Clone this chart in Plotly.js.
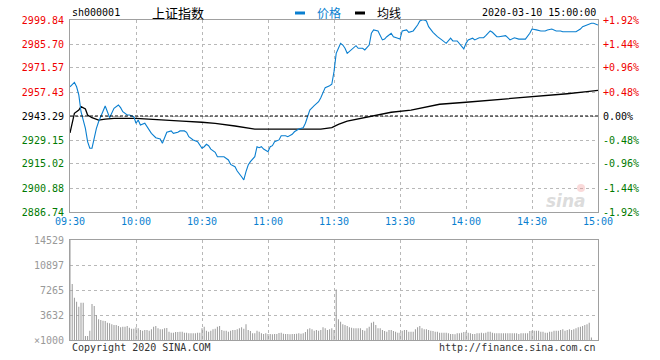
<!DOCTYPE html>
<html>
<head>
<meta charset="utf-8">
<script src="https://cdn.plot.ly/plotly-3.0.1.min.js"></script>
<style>html,body{margin:0;padding:0;background:#fff;}#chart{width:660px;height:360px;}</style>
</head>
<body>
<div id="chart"></div>
<script>
// ---- data (minutes since 09:30, 11:30 and 13:00 share minute 120) ----
const symbol = 'sh000001';
const indexName = '上证指数';
const stamp = '2020-03-10 15:00:00';
const prevClose = 2943.29;

const timeTicks = [0, 30, 60, 90, 120, 150, 180, 210, 240];
const timeLabels = ['09:30', '10:00', '10:30', '11:00', '11:30', '13:30', '14:00', '14:30', '15:00'];

const priceTicks = [2886.74, 2900.88, 2915.02, 2929.15, 2943.29, 2957.43, 2971.57, 2985.70, 2999.84];
const priceTickText = ['2886.74', '2900.88', '2915.02', '2929.15', '2943.29', '2957.43', '2971.57', '2985.70', '2999.84'];
const pctTickText = ['-1.92%', '-1.44%', '-0.96%', '-0.48%', '0.00%', '+0.48%', '+0.96%', '+1.44%', '+1.92%'];

const volTicks = [0, 3632, 7265, 10897, 14529];
const volTickText = ['×1000', '3632', '7265', '10897', '14529'];

const priceMin = [0,2,3,4,5,7,8,9,10,11,12,13,15,16,17,18,20,21,22,23,24,26,27,29,30,31,32,34,35,37,39,41,42,43,44,46,47,49,50,52,53,54,56,58,59,60,61,62,63,64,66,67,68,70,72,73,75,76,78,79,80,81,82,83,84,85,86,87,88,90,91,92,93,95,96,98,99,101,102,104,106,107,108,109,111,113,114,115,116,118,119,120,121,122,123,124,125,126,128,130,131,133,134,136,137,138,140,141,142,143,144,146,147,149,150,151,153,154,156,158,159,160,161,162,163,165,167,169,171,173,174,176,178,179,180,181,183,184,186,188,189,191,192,194,195,198,199,200,202,204,206,207,209,210,212,214,216,217,219,221,223,224,227,230,232,233,235,237,238,240];
const priceVal = [2960.5,2963.1,2960.5,2955.7,2945.8,2936.0,2928.2,2924.3,2924.3,2930.2,2936.0,2939.9,2945.8,2949.2,2945.8,2942.3,2947.8,2948.8,2949.8,2948.2,2945.8,2943.9,2943.9,2942.9,2939.0,2940.9,2938.0,2939.0,2937.0,2933.1,2930.5,2929.7,2927.2,2930.2,2933.7,2934.5,2933.1,2933.7,2934.5,2934.5,2933.7,2931.1,2929.2,2928.2,2926.2,2924.3,2925.2,2926.6,2925.8,2923.8,2921.9,2919.3,2919.3,2919.3,2917.4,2914.8,2913.4,2910.9,2907.5,2905.6,2910.5,2914.4,2916.4,2918.0,2919.3,2925.2,2924.6,2925.2,2923.8,2922.3,2925.2,2925.8,2928.2,2929.2,2931.7,2931.7,2931.1,2932.5,2934.0,2935.6,2936.4,2939.0,2942.9,2946.8,2949.4,2951.7,2954.1,2957.3,2960.0,2961.1,2962.0,2969.4,2980.2,2983.2,2986.1,2985.1,2983.2,2980.2,2982.2,2984.7,2983.2,2983.2,2982.2,2985.1,2992.0,2994.0,2993.4,2991.0,2988.1,2988.6,2990.0,2992.0,2990.0,2989.1,2988.6,2993.4,2994.0,2992.6,2993.4,2996.9,2999.25,2999.84,2999.84,2999.25,2995.9,2992.6,2990.0,2988.1,2986.1,2989.1,2987.5,2987.5,2984.1,2982.8,2986.1,2988.1,2989.1,2988.1,2989.4,2989.4,2990.6,2993.4,2992.6,2990.0,2990.0,2990.6,2989.4,2988.1,2989.4,2988.6,2988.6,2988.6,2992.0,2994.5,2994.0,2993.4,2993.4,2994.0,2994.5,2993.4,2993.4,2992.9,2992.9,2992.9,2994.5,2995.9,2996.9,2997.9,2997.9,2996.9];

const avgMin = [0,1,2,4,5,7,8,10,13,16,20,30,37,45,51,60,66,75,81,84,95,114,119,122,126,132,139,146,155,161,168,180,191,205,215,226,235,240];
const avgVal = [2933.3,2939.9,2944.9,2946.8,2948.8,2947.4,2943.9,2942.3,2940.9,2941.5,2941.9,2941.9,2941.5,2940.9,2940.3,2939.6,2939.0,2937.4,2936.1,2935.5,2935.5,2935.6,2936.4,2938.4,2940.3,2941.9,2943.9,2945.5,2946.8,2948.2,2950.2,2951.4,2952.5,2954.1,2955.1,2956.4,2957.6,2958.4];

const volume = [
14529,8136,6146,5569,4843,5424,5424,581,581,1356,
5230,4940,3632,3003,2906,2809,2760,2518,2421,2276,
2179,2179,2034,1840,1937,1937,2034,1792,1646,1646,
1840,1695,1453,1356,1453,1453,1356,1550,1937,2034,
1695,1550,1550,1695,1743,1211,1066,1066,1162,1162,
1211,1211,1066,1066,969,969,969,969,1066,1066,
1695,1937,1356,1211,1356,1550,1646,1937,2034,1453,
1356,1356,1211,1356,1453,1453,1550,1695,1840,1646,
2276,1453,1308,969,969,1356,1211,969,872,969,
872,870,820,870,870,1020,1066,920,870,870,
820,870,870,920,969,920,969,1162,1550,1695,
1550,1356,1453,1356,1453,1840,1695,1453,1550,1695,
1450,7350,3003,2663,2276,2179,2034,1840,1792,1695,
1695,1695,1695,1453,1356,1695,1937,2518,2663,2179,
1695,1695,1453,1308,1211,1453,1453,1308,1211,1066,
1066,1356,1453,1453,1211,1211,1211,1550,1840,2034,
1695,1550,1550,1453,1356,1308,1211,1211,1066,1066,
1066,1066,969,872,872,820,969,969,1066,1162,
1211,1066,969,872,872,969,969,1066,969,1066,
1211,1211,1066,969,969,969,969,969,969,969,
969,969,969,969,872,969,969,969,969,1308,
1356,1356,1356,1356,1211,1211,1066,1066,1211,1211,
1356,1356,1356,1453,1550,1356,1453,1550,1453,1550,
1695,1840,1937,2034,2179,2276,2518,350,0,0,
0];

// ---- styling ----
const MONO = 'DejaVu Sans Mono, Liberation Mono, monospace';
const CJK = 'Noto Sans CJK SC, sans-serif';
const RED = '#f00000', GREEN = '#007a00', BLUE = '#0a7fd0';
const FRAME = '#a0a0a0', GRID = '#b8b8b8';

function colorFor(v) { return v > prevClose + 0.001 ? RED : (v < prevClose - 0.001 ? GREEN : '#000'); }
const leftText = priceTicks.map((v, i) => '<span style="color:' + colorFor(v) + '">' + priceTickText[i] + '</span>');
const rightText = priceTicks.map((v, i) => '<span style="color:' + colorFor(v) + '">' + pctTickText[i] + '</span>');
const volX = volume.map((v, i) => i);

const traces = [
  { type: 'bar', x: volX, y: volume, xaxis: 'x2', yaxis: 'y3', width: 0.45,
    marker: { color: '#999999', line: { width: 0 } }, hoverinfo: 'skip' },
  { type: 'scatter', mode: 'lines', x: [timeTicks[0], timeTicks[timeTicks.length - 1]], y: [prevClose, prevClose],
    xaxis: 'x', yaxis: 'y2', line: { color: '#000', width: 1, dash: '3px,2px' }, hoverinfo: 'skip' },
  { type: 'scatter', mode: 'lines', x: avgMin, y: avgVal, xaxis: 'x', yaxis: 'y',
    line: { color: '#000', width: 1.3 }, hoverinfo: 'skip' },
  { type: 'scatter', mode: 'lines', x: priceMin, y: priceVal, xaxis: 'x', yaxis: 'y',
    line: { color: BLUE, width: 1.1 }, hoverinfo: 'skip' }
];

const axBase = { showgrid: true, gridcolor: GRID, griddash: 'dot', gridwidth: 1, zeroline: false,
  showline: true, linecolor: FRAME, linewidth: 1, mirror: true, ticks: '', fixedrange: true };
const lo = priceTicks[0], hi = priceTicks[priceTicks.length - 1];

function px2x(X) { return (X - 70) / 528; }
function px2y(Y) { return (340 - Y) / 320; }

const layout = {
  width: 660, height: 360, autosize: false, showlegend: false,
  paper_bgcolor: '#fff', plot_bgcolor: '#fff',
  margin: { l: 70, r: 62, t: 20, b: 20, pad: 0 },
  font: { family: MONO, size: 10, color: '#000' },
  xaxis: Object.assign({}, axBase, { domain: [0, 1], range: [0, 240], anchor: 'y',
    tickvals: timeTicks, ticktext: timeLabels, tickfont: { family: MONO, size: 10, color: BLUE } }),
  xaxis2: Object.assign({}, axBase, { domain: [0, 1], range: [0, 240], anchor: 'y3',
    tickvals: timeTicks, showticklabels: false }),
  yaxis: Object.assign({}, axBase, { domain: [0.4, 1], range: [lo, hi], anchor: 'x',
    tickvals: priceTicks, ticktext: leftText, tickfont: { family: MONO, size: 10 }, ticklabelstandoff: 3 }),
  yaxis2: { overlaying: 'y', side: 'right', range: [lo, hi], anchor: 'x', showgrid: false, zeroline: false,
    showline: false, ticks: '', tickvals: priceTicks, ticktext: rightText, tickfont: { family: MONO, size: 10 },
    fixedrange: true, ticklabelstandoff: 4 },
  yaxis3: Object.assign({}, axBase, { domain: [0, 0.3125], range: [0, volTicks[volTicks.length - 1]], anchor: 'x2',
    tickvals: volTicks, ticktext: volTickText, tickfont: { family: MONO, size: 10, color: '#999' }, ticklabelstandoff: 3 }),
  shapes: [
    { type: 'rect', xref: 'paper', yref: 'paper', x0: px2x(295), x1: px2x(305), y0: px2y(14.5), y1: px2y(11.5),
      fillcolor: BLUE, line: { width: 0 } },
    { type: 'rect', xref: 'paper', yref: 'paper', x0: px2x(355), x1: px2x(365), y0: px2y(14.5), y1: px2y(11.5),
      fillcolor: '#000', line: { width: 0 } },
    { type: 'circle', xref: 'paper', yref: 'paper', x0: px2x(577), x1: px2x(585), y0: px2y(192), y1: px2y(184),
      fillcolor: 'rgba(240,150,150,0.35)', line: { width: 0 } }
  ],
  annotations: [
    { xref: 'paper', yref: 'paper', x: px2x(70), y: px2y(13), xanchor: 'left', yanchor: 'middle', showarrow: false,
      text: symbol, font: { family: MONO, size: 10, color: '#000' } },
    { xref: 'paper', yref: 'paper', x: px2x(150), y: px2y(13), xanchor: 'left', yanchor: 'middle', showarrow: false,
      text: indexName, font: { family: CJK, size: 13, color: '#000' } },
    { xref: 'paper', yref: 'paper', x: px2x(315), y: px2y(13), xanchor: 'left', yanchor: 'middle', showarrow: false,
      text: '价格', font: { family: CJK, size: 12, color: BLUE } },
    { xref: 'paper', yref: 'paper', x: px2x(375), y: px2y(13), xanchor: 'left', yanchor: 'middle', showarrow: false,
      text: '均线', font: { family: CJK, size: 12, color: '#000' } },
    { xref: 'paper', yref: 'paper', x: px2x(598), y: px2y(13), xanchor: 'right', yanchor: 'middle', showarrow: false,
      text: stamp, font: { family: MONO, size: 10, color: '#000' } },
    { xref: 'paper', yref: 'paper', x: px2x(70), y: px2y(347), xanchor: 'left', yanchor: 'middle', showarrow: false,
      text: 'Copyright 2020 SINA.COM', font: { family: MONO, size: 10, color: '#333' } },
    { xref: 'paper', yref: 'paper', x: px2x(598), y: px2y(347), xanchor: 'right', yanchor: 'middle', showarrow: false,
      text: 'http://finance.sina.com.cn', font: { family: MONO, size: 10, color: '#333' } },
    { xref: 'paper', yref: 'paper', x: px2x(566), y: px2y(201), xanchor: 'center', yanchor: 'middle', showarrow: false,
      text: '<b><i>sina</i></b>', font: { family: 'DejaVu Sans, sans-serif', size: 17, color: 'rgba(190,190,190,0.55)' } }
  ]
};

Plotly.newPlot('chart', traces, layout, { staticPlot: true, displayModeBar: false });
</script>
</body>
</html>
